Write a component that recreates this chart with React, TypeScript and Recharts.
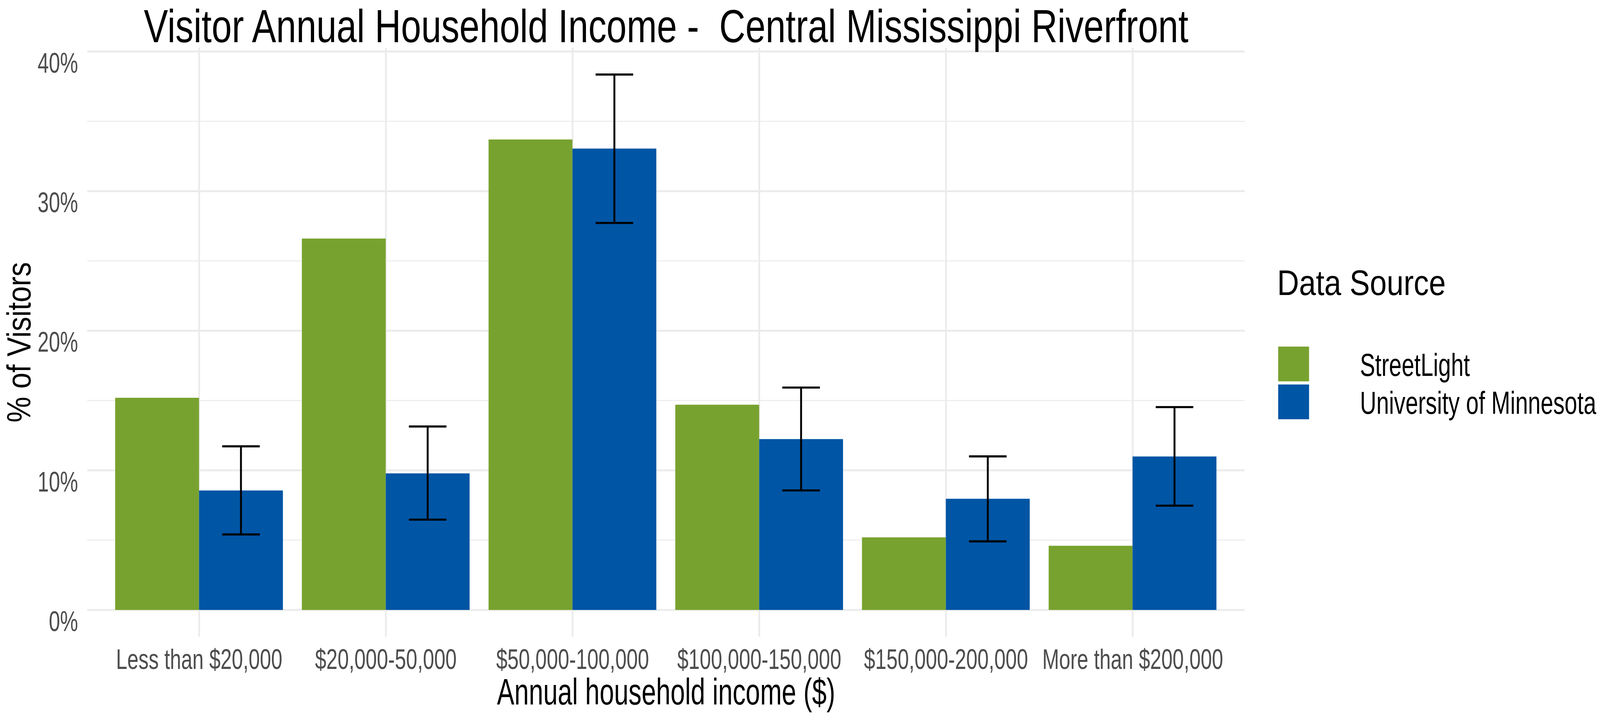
import React from 'react';
import { BarChart, Bar, XAxis, YAxis, CartesianGrid, ErrorBar } from 'recharts';

const categories = [
  'Less than $20,000',
  '$20,000-50,000',
  '$50,000-100,000',
  '$100,000-150,000',
  '$150,000-200,000',
  'More than $200,000',
];
const streetLight = [15.2, 26.6, 33.7, 14.7, 5.2, 4.6];
const umn = [8.56, 9.78, 33.05, 12.24, 7.96, 10.99];
const umnLow = [5.41, 6.47, 27.72, 8.56, 4.91, 7.47];
const umnHigh = [11.72, 13.14, 38.35, 15.93, 11.0, 14.53];

const seriesNames = ['StreetLight', 'University of Minnesota'];
const seriesColors = ['#78A22F', '#0055A5'];
const yTicks = [0, 10, 20, 30, 40];
const yMinor = [5, 15, 25, 35];

const W = 4559;
const H = 1835;
const FONT = '"Liberation Sans", Arial, sans-serif';

const data = categories.map((c, i) => ({
  category: c,
  streetLight: streetLight[i],
  umn: umn[i],
  umnErr: [umn[i] - umnLow[i], umnHigh[i] - umn[i]],
}));

type SqProps = {
  x: number;
  y: number;
  size: number;
  sx: number;
  anchor?: 'start' | 'middle' | 'end';
  fill?: string;
  rotate?: number;
  children: React.ReactNode;
};

// ggplot text here is narrower than Arial, so squeeze horizontally
const Sq = ({ x, y, size, sx, anchor = 'start', fill = '#000', rotate = 0, children }: SqProps) => (
  <text
    transform={`translate(${x},${y}) rotate(${rotate}) scale(${sx},1)`}
    fontSize={size}
    fontFamily={FONT}
    textAnchor={anchor}
    fill={fill}
    xmlSpace="preserve"
    style={{ whiteSpace: 'pre' }}
  >
    {children}
  </text>
);

const XTick = (props: any) => (
  <Sq x={props.x} y={props.y + 82} size={72} sx={0.8} anchor="middle" fill="#4D4D4D">
    {props.payload.value}
  </Sq>
);

const YTick = (props: any) => (
  <Sq x={props.x} y={props.y + 54} size={72} sx={0.8} anchor="end" fill="#4D4D4D">
    {`${props.payload.value}%`}
  </Sq>
);

export default function App() {
  // the browser caps the viewport (4096 wide), so map the 4559x1835 drawing onto it
  const vw = typeof window !== 'undefined' ? document.documentElement.clientWidth || window.innerWidth : W;
  const vh = typeof window !== 'undefined' ? window.innerHeight || H : H;
  const sx = Math.min(1, vw / W);
  const sy = Math.min(1, vh / H);

  return (
    <div style={{ position: 'absolute', left: 0, top: 0, width: W * sx, height: H * sy, overflow: 'hidden', background: '#fff' }}>
      <div
        style={{
          position: 'absolute',
          left: 0,
          top: 0,
          width: W,
          height: H,
          transform: `scale(${sx}, ${sy})`,
          transformOrigin: '0 0',
        }}
      >
        <BarChart
          width={W}
          height={H}
          data={data}
          margin={{ top: 122.2, right: 1012.3, bottom: 5.4, left: 48.3 }}
          barCategoryGap="5%"
          barGap={0}
        >
          <CartesianGrid
            horizontal={true}
            vertical={false}
            horizontalValues={yMinor}
            syncWithTicks
            stroke="#EBEBEB"
            strokeWidth={2.5}
          />
          <CartesianGrid syncWithTicks stroke="#EBEBEB" strokeWidth={5} />
          <XAxis
            dataKey="category"
            interval={0}
            padding={{ left: 53.2, right: 53.2 }}
            axisLine={false}
            tickLine={false}
            tickSize={0}
            tickMargin={0}
            height={200}
            tick={<XTick />}
          />
          <YAxis
            type="number"
            domain={[-1.92, 40.27]}
            allowDataOverflow
            ticks={yTicks}
            interval={0}
            axisLine={false}
            tickLine={false}
            tickSize={0}
            tickMargin={26}
            width={200}
            tick={<YTick />}
          />
          <Bar dataKey="streetLight" fill={seriesColors[0]} isAnimationActive={false} />
          <Bar dataKey="umn" fill={seriesColors[1]} isAnimationActive={false}>
            <ErrorBar dataKey="umnErr" width={53.5} stroke="#000" strokeWidth={5.4} />
          </Bar>
        </BarChart>
        <svg width={W} height={H} style={{ position: 'absolute', left: 0, top: 0, pointerEvents: 'none' }}>
          <Sq x={1898} y={108} size={118} sx={0.875} anchor="middle">
            {'Visitor Annual Household Income -  Central Mississippi Riverfront'}
          </Sq>
          <Sq x={1898} y={1803} size={95} sx={0.78} anchor="middle">
            Annual household income ($)
          </Sq>
          <Sq x={87} y={876} size={95} sx={0.78} anchor="middle" rotate={-90}>
            % of Visitors
          </Sq>
          <Sq x={3639} y={755} size={91} sx={0.95}>
            Data Source
          </Sq>
          {seriesNames.map((name, i) => (
            <g key={name}>
              <rect x={3642} y={887 + i * 97} width={88} height={89} fill={seriesColors[i]} />
              <Sq x={3875} y={962 + i * 97} size={82} sx={0.79}>
                {name}
              </Sq>
            </g>
          ))}
        </svg>
      </div>
    </div>
  );
}
